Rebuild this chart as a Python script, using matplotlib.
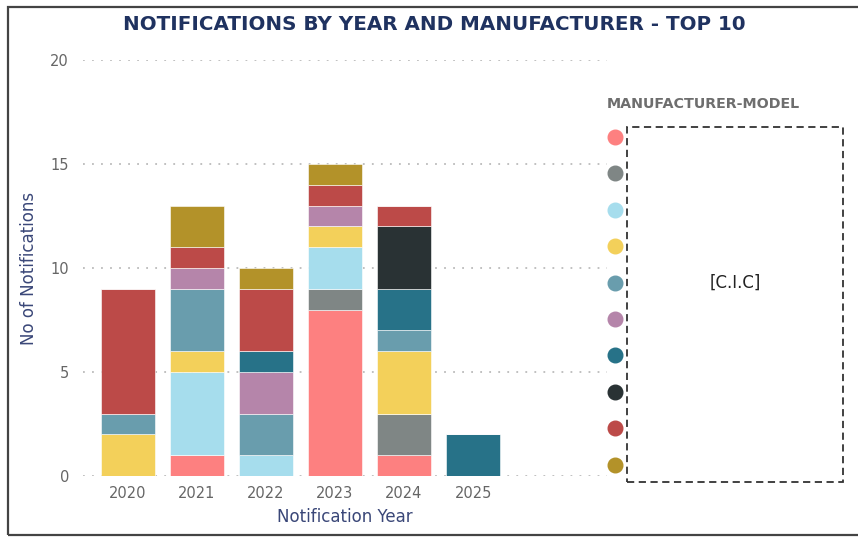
import numpy as np
import matplotlib
matplotlib.use("Agg")
import matplotlib.pyplot as plt
from matplotlib.lines import Line2D
from matplotlib.patches import Rectangle

plt.rcParams['font.family'] = ['DejaVu Sans']

# notification counts per manufacturer-model, stacked in this order
years = ['2020', '2021', '2022', '2023', '2024', '2025']
series = ['Model A', 'Model B', 'Model C', 'Model D', 'Model E',
          'Model F', 'Model G', 'Model H', 'Model I', 'Model J']
colors = ['#FD8080', '#7F8685', '#A6DDED', '#F3D05A', '#699DAD',
          '#B585AA', '#277288', '#293234', '#BC4A48', '#B39229']
counts = [
    [0, 1, 0, 8, 1, 0],   # Model A
    [0, 0, 0, 1, 2, 0],   # Model B
    [0, 4, 1, 2, 0, 0],   # Model C
    [2, 1, 0, 1, 3, 0],   # Model D
    [1, 3, 2, 0, 1, 0],   # Model E
    [0, 1, 2, 1, 0, 0],   # Model F
    [0, 0, 1, 0, 2, 2],   # Model G
    [0, 0, 0, 0, 3, 0],   # Model H
    [6, 1, 3, 1, 1, 0],   # Model I
    [0, 2, 1, 1, 0, 0],   # Model J
]

navy = '#1F3260'
fig = plt.figure(figsize=(8.58, 5.37), dpi=100)
ax = fig.add_axes([0.0967, 0.1136, 0.6108, 0.7747])

x = np.arange(len(years))
bottom = np.zeros(len(years))
for name, col, vals in zip(series, colors, counts):
    vals = np.array(vals, dtype=float)
    ax.bar(x, vals, 0.78, bottom=bottom, color=col, label=name,
           edgecolor='white', linewidth=0.4, zorder=3)
    bottom += vals

ax.set_ylim(0, 20)
ax.set_xlim(-0.65, 6.94)
ax.set_yticks([0, 5, 10, 15, 20])
ax.set_xticks(x)
ax.set_xticklabels(years)
ax.tick_params(length=0, colors='#666666', labelsize=10.5, pad=7)
ax.tick_params(axis='y', pad=10)
ax.grid(axis='y', color='#BBBBBB', linestyle=(0, (1, 4)), linewidth=1.3, zorder=0)
ax.grid(axis='x', visible=False)
for s in ax.spines.values():
    s.set_visible(False)
ax.set_xlabel('Notification Year', color='#3A4778', fontsize=12, labelpad=5)
ax.set_ylabel('No of Notifications', color='#3A4778', fontsize=12, labelpad=9)

fig.text(0.506, 0.955, 'NOTIFICATIONS BY YEAR AND MANUFACTURER - TOP 10',
         ha='center', va='center', fontsize=14.3, fontweight='bold', color=navy)

# legend: title, coloured dots and the redacted label box
fig.text(607 / 858, 1 - 104 / 537, 'MANUFACTURER-MODEL', ha='left', va='center',
         fontsize=10.3, fontweight='bold', color='#6E6E6E')
for i, col in enumerate(colors):
    yy = 1 - (137 + i * 36.4) / 537
    fig.add_artist(Line2D([615 / 858], [yy], marker='o', markersize=10.5,
                          linestyle='', color=col, transform=fig.transFigure))
fig.add_artist(Rectangle((627 / 858, 1 - 482 / 537), 216 / 858, 355 / 537,
                         transform=fig.transFigure, fill=False,
                         edgecolor='#333333', linestyle=(0, (4, 2.5)), linewidth=1.3))
fig.text(735 / 858, 1 - 283 / 537, '[C.I.C]', ha='center', va='center',
         fontsize=12, color='#222222')

# panel border
fig.add_artist(Rectangle((8 / 858, 2 / 537), 2, 1 - 9 / 537,
                         transform=fig.transFigure, fill=False,
                         edgecolor='#444444', linewidth=1.6))

fig.savefig('out.png', dpi=100)
